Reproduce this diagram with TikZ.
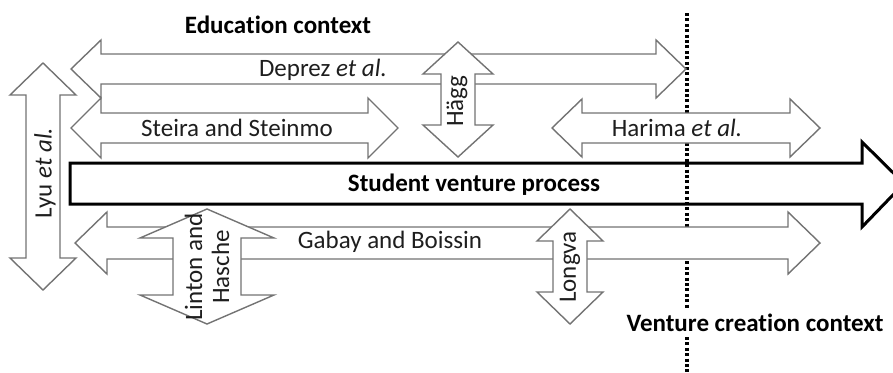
\documentclass[tikz,border=0pt]{standalone}
\usepackage{fontspec}
\setmainfont{Carlito}[Ligatures=NoCommon]
\definecolor{edgegray}{HTML}{737373}
\definecolor{txtgray}{HTML}{1E1E1E}
% horizontal double arrow: left x, right x, centre y, shaft half, head half, head length
\newcommand{\hdarrow}[6]{%
  \draw[darrow] (#1,#3) -- ({#1+#6},{#3-#5}) -- ({#1+#6},{#3-#4}) -- ({#2-#6},{#3-#4})
    -- ({#2-#6},{#3-#5}) -- (#2,#3) -- ({#2-#6},{#3+#5}) -- ({#2-#6},{#3+#4})
    -- ({#1+#6},{#3+#4}) -- ({#1+#6},{#3+#5}) -- cycle;}
% vertical double arrow: centre x, top y, bottom y, shaft half, head half, head length
\newcommand{\vdarrow}[6]{%
  \draw[darrow] (#1,#2) -- ({#1+#5},{#2+#6}) -- ({#1+#4},{#2+#6}) -- ({#1+#4},{#3-#6})
    -- ({#1+#5},{#3-#6}) -- (#1,#3) -- ({#1-#5},{#3-#6}) -- ({#1-#4},{#3-#6})
    -- ({#1-#4},{#2+#6}) -- ({#1-#5},{#2+#6}) -- cycle;}
\tikzset{
  darrow/.style={draw=edgegray, fill=white, line width=1.4pt, line join=miter},
  lbl/.style={font=\fontsize{25}{27}\selectfont, text=txtgray, inner sep=0pt},
  title/.style={lbl, font=\fontsize{25}{27}\selectfont\bfseries, text=black},
}
\begin{document}
\begin{tikzpicture}[x=1pt, y=-1pt]
    \useasboundingbox (0,0) rectangle (893,372);
    \clip (0,0) rectangle (893,372);

    % border between the two contexts
    \draw[line width=3.5pt, dash pattern=on 3pt off 2.4pt] (687,13) -- (687,372);

    % education side
    \hdarrow{71}{686}{69}{15}{29}{30}
    \hdarrow{71}{398}{128}{15}{30}{30}
    \hdarrow{552}{820}{128}{15}{29}{30}
    \vdarrow{458}{42}{157}{17}{35}{32}
    \vdarrow{43}{63}{290}{17}{33}{32}

    % main process
    \draw[line width=3pt, line join=miter] (70,163) -- (862,163) -- (862,142) -- (904,183.5)
      -- (862,227) -- (862,204) -- (70,204) -- cycle;

    % venture creation side
    \hdarrow{75}{820}{243}{16}{31}{32}
    \vdarrow{207}{209}{324}{34}{67}{29}
    \vdarrow{570}{209}{324}{17}{33}{32}

    \node[title] (educ) at (278,25) {Education context};
    \node[title] (proc) at (474,185) {Student venture process};
    \node[title, fill=white, inner ysep=5pt] (vent) at (755,323) {Venture creation context};

    \node[lbl] (deprez) at (323,70) {Deprez \textit{et al.}};
    \node[lbl] (steira) at (237,128) {Steira and Steinmo};
    \node[lbl] (harima) at (677,128) {Harima \textit{et al.}};
    \node[lbl, rotate=90] (hagg) at (457,101) {Hägg};
    \node[lbl, rotate=90] (lyu) at (45,173) {Lyu \textit{et al.}};
    \node[lbl] (gabay) at (390,242) {Gabay and Boissin};
    \node[lbl, rotate=90, align=center] (linton) at (207,267) {Linton and\\Hasche};
    \node[lbl, rotate=90] (longva) at (570,267) {Longva};
\end{tikzpicture}
\end{document}
